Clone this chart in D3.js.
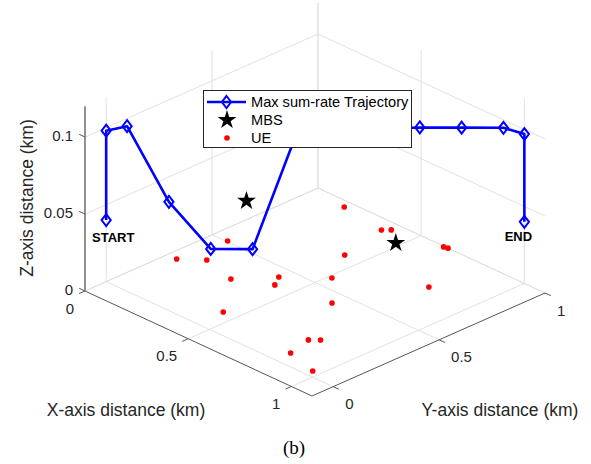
<!DOCTYPE html>
<html><head><meta charset="utf-8">
<script src="https://cdn.jsdelivr.net/npm/d3@7"></script>
<style>body{margin:0;background:#fff}svg{display:block}</style>
</head><body><svg id="c" width="591" height="464"></svg>
<script>
// ---- data ----
const xLim = [0, 1.1], yLim = [-0.1, 1], zLim = [0, 0.12];
const xTicks = [0, 0.5, 1], xTickLabels = ["0", "0.5", "1"];
const yTicks = [0, 0.5, 1], yTickLabels = ["0", "0.5", "1"];
const zTicks = [0, 0.05, 0.1], zTickLabels = ["0", "0.05", "0.1"];
const trajX = [0, 0, 0.05, 0.15, 0.25, 0.35, 0.45, 0.55, 0.65, 0.75, 0.85, 0.95, 1, 1];
const trajY = [0, 0, 0.05, 0.15, 0.25, 0.35, 0.45, 0.55, 0.65, 0.75, 0.85, 0.95, 1, 1];
const trajZ = [0.04, 0.098, 0.101, 0.052, 0.0215, 0.0215, 0.093, 0.1, 0.1, 0.101, 0.101, 0.101, 0.097, 0.04];
const mbsX = [0.106, 0.685], mbsY = [0.559, 0.700], mbsZ = [0.025, 0.025];
const ueX = [0.164, 0.375, 0.398, 0.613, 0.630, 0.070, 0.046, 0.122, 0.422, 0.281, 0.384, 0.417, 0.515, 0.793, 0.649, 0.440, 0.819, 0.791, 0.820, 0.968];
const ueY = [0.964, 0.934, 0.958, 0.996, 1.000, 0.505, 0.288, 0.356, 0.715, 0.315, 0.441, 0.390, 0.564, 0.751, 0.434, 0.124, 0.073, 0.184, 0.213, 0.032];
const legendLabels = ["Max sum-rate Trajectory", "MBS", "UE"];

// ---- projection built from d3 scales ----
const svg = d3.select("#c");
const O = [85, 291], EX = [227, 105], EY = [233, -103], EZ = [0, -184.8];
const xs = d3.scaleLinear().domain(xLim).range([0, 1]);
const ys = d3.scaleLinear().domain(yLim).range([0, 1]);
const zs = d3.scaleLinear().domain(zLim).range([0, 1]);
function P(x, y, z) {
  const u = xs(x), v = ys(y), w = zs(z);
  return [O[0] + u*EX[0] + v*EY[0] + w*EZ[0], O[1] + u*EX[1] + v*EY[1] + w*EZ[1]];
}
const lineGen = d3.line();
const gridC = "#dedede", axC = "#555", txtC = "#262626";
const font = "'Liberation Sans', Arial, sans-serif";

const g = svg.append("g");
function seg(a, b, color, w) {
  g.append("path").attr("d", lineGen([a, b])).attr("stroke", color).attr("stroke-width", w).attr("fill", "none");
}
// floor grid (z = 0)
xTicks.forEach(t => seg(P(t, yLim[0], 0), P(t, yLim[1], 0), gridC, 0.9));
yTicks.forEach(t => seg(P(xLim[0], t, 0), P(xLim[1], t, 0), gridC, 0.9));
// wall x = xmin
yTicks.forEach(t => seg(P(xLim[0], t, zLim[0]), P(xLim[0], t, zLim[1]), gridC, 0.9));
zTicks.forEach(t => seg(P(xLim[0], yLim[0], t), P(xLim[0], yLim[1], t), gridC, 0.9));
// wall y = ymax
xTicks.forEach(t => seg(P(t, yLim[1], zLim[0]), P(t, yLim[1], zLim[1]), gridC, 0.9));
zTicks.forEach(t => seg(P(xLim[0], yLim[1], t), P(xLim[1], yLim[1], t), gridC, 0.9));

// axes lines
seg(P(xLim[0], yLim[0], 0), P(xLim[1], yLim[0], 0), axC, 1);
seg(P(xLim[1], yLim[0], 0), P(xLim[1], yLim[1], 0), axC, 1);
seg(P(xLim[0], yLim[0], zLim[0]), P(xLim[0], yLim[0], zLim[1]), "#777", 1.6);
// ticks
xTicks.forEach(t => seg(P(t, yLim[0], 0), P(t, yLim[0] - 0.028, 0), axC, 1));
yTicks.forEach(t => seg(P(xLim[1], t, 0), P(xLim[1] + 0.028, t, 0), axC, 1));
zTicks.forEach(t => seg(P(xLim[0], yLim[0], t), P(xLim[0] - 0.028, yLim[0], t), axC, 1));

// tick labels
xTicks.forEach((t, i) => {
  const p = P(t, yLim[0], 0);
  g.append("text").attr("x", p[0] - 11).attr("y", p[1] + 17).attr("text-anchor", "end")
    .attr("dominant-baseline", "central").attr("font-family", font).attr("font-size", 15).attr("fill", txtC).text(xTickLabels[i]);
});
yTicks.forEach((t, i) => {
  const p = P(xLim[1], t, 0);
  g.append("text").attr("x", p[0] + 12).attr("y", p[1] + 17).attr("text-anchor", "start")
    .attr("dominant-baseline", "central").attr("font-family", font).attr("font-size", 15).attr("fill", txtC).text(yTickLabels[i]);
});
zTicks.forEach((t, i) => {
  const p = P(xLim[0], yLim[0], t);
  g.append("text").attr("x", p[0] - 12).attr("y", p[1] - 2).attr("text-anchor", "end")
    .attr("dominant-baseline", "central").attr("font-family", font).attr("font-size", 15).attr("fill", txtC).text(zTickLabels[i]);
});
// axis labels
g.append("text").attr("x", 126).attr("y", 410).attr("text-anchor", "middle").attr("dominant-baseline", "central")
  .attr("font-family", font).attr("font-size", 17.5).attr("fill", txtC).text("X-axis distance (km)");
g.append("text").attr("x", 500).attr("y", 410).attr("text-anchor", "middle").attr("dominant-baseline", "central")
  .attr("font-family", font).attr("font-size", 17.5).attr("fill", txtC).text("Y-axis distance (km)");
g.append("text").attr("transform", "translate(27,198) rotate(-90)").attr("text-anchor", "middle").attr("dominant-baseline", "central")
  .attr("font-family", font).attr("font-size", 17.5).attr("fill", txtC).text("Z-axis distance (km)");

// UE points
ueX.forEach((x, i) => {
  const p = P(x, ueY[i], 0);
  g.append("circle").attr("cx", p[0]).attr("cy", p[1]).attr("r", 2.8).attr("fill", "#ff0000");
});
// MBS stars
const star = d3.symbol().type(d3.symbolStar).size(110);
mbsX.forEach((x, i) => {
  const p = P(x, mbsY[i], mbsZ[i]);
  g.append("path").attr("d", star()).attr("transform", `translate(${p[0]},${p[1]})`).attr("fill", "#000");
});
// trajectory
const trajPts = trajX.map((x, i) => P(x, trajY[i], trajZ[i]));
g.append("path").attr("d", lineGen(trajPts)).attr("stroke", "#0000ff").attr("stroke-width", 2.6)
  .attr("fill", "none").attr("stroke-linejoin", "round");
const diamond = "M0,-6L4.6,0L0,6L-4.6,0Z";
trajPts.forEach(p => {
  g.append("path").attr("d", diamond).attr("transform", `translate(${p[0]},${p[1]})`)
    .attr("fill", "none").attr("stroke", "#0000ff").attr("stroke-width", 2);
});
// START / END
const ps = trajPts[0], pe = trajPts[trajPts.length - 1];
g.append("text").attr("x", ps[0] + 7).attr("y", ps[1] + 17).attr("text-anchor", "middle").attr("dominant-baseline", "central")
  .attr("font-family", font).attr("font-weight", "bold").attr("font-size", 13).attr("fill", "#000").text("START");
g.append("text").attr("x", pe[0] - 6).attr("y", pe[1] + 15).attr("text-anchor", "middle").attr("dominant-baseline", "central")
  .attr("font-family", font).attr("font-weight", "bold").attr("font-size", 13).attr("fill", "#000").text("END");

// legend
const lg = svg.append("g");
lg.append("rect").attr("x", 203.5).attr("y", 90.5).attr("width", 208).attr("height", 57)
  .attr("fill", "#fff").attr("stroke", txtC).attr("stroke-width", 1);
lg.append("path").attr("d", lineGen([[207, 102], [246, 102]])).attr("stroke", "#0000ff").attr("stroke-width", 2.6);
lg.append("path").attr("d", diamond).attr("transform", "translate(226.5,102)").attr("fill", "none").attr("stroke", "#0000ff").attr("stroke-width", 2);
lg.append("path").attr("d", star()).attr("transform", "translate(227,120)").attr("fill", "#000");
lg.append("circle").attr("cx", 227).attr("cy", 138).attr("r", 2.8).attr("fill", "#ff0000");
legendLabels.forEach((t, i) => {
  lg.append("text").attr("x", 251).attr("y", 102 + i*18).attr("dominant-baseline", "central")
    .attr("font-family", font).attr("font-size", 14.6).attr("fill", "#000").text(t);
});

// caption
svg.append("text").attr("x", 294).attr("y", 447).attr("text-anchor", "middle").attr("dominant-baseline", "central")
  .attr("font-family", "'Liberation Serif', 'Times New Roman', serif").attr("font-size", 19).attr("fill", "#000").text("(b)");
</script></body></html>
